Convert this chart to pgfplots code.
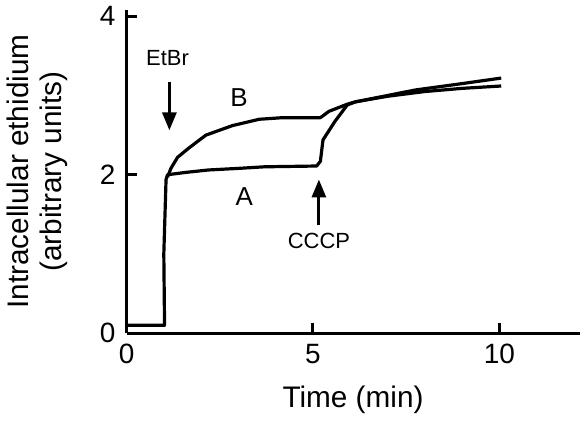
\documentclass[border=0pt]{standalone}
\usepackage{fontspec}
\setmainfont{Liberation Sans}
\usepackage{pgfplots}
\pgfplotsset{compat=1.18}
\usetikzlibrary{arrows.meta}

\begin{document}
\begin{tikzpicture}
\begin{axis}[
  scale only axis,
  width=227pt, height=162pt,
  xmin=0, xmax=12.15, ymin=0, ymax=4.08,
  axis lines=left,
  axis line style={line width=1.5pt, -},
  xtick={0,5,10}, ytick={0,2,4},
  tick style={line width=1.5pt, black},
  major tick length=5pt,
  tick align=inside,
  /pgf/number format/assume math mode=true,
  tick label style={font=\fontsize{14}{16}\selectfont},
  yticklabel style={xshift=-2pt},
  xticklabel style={yshift=-2pt},
  xlabel={Time (min)},
  ylabel={Intracellular ethidium\\(arbitrary units)},
  label style={font=\fontsize{14.9}{16.5}\selectfont},
  ylabel style={align=center},
  ylabel shift=9.5pt,
  xlabel shift=4pt,
  clip=false,
]
% curve A
\addplot[black, line width=1.6pt, line join=round] coordinates {
  (0,0.1) (1.02,0.1) (1.0,1.0) (1.06,1.94) (1.1,2.0)
  (1.6,2.03) (2.2,2.06) (3.0,2.08) (3.7,2.10) (5.1,2.11)
  (5.2,2.17) (5.27,2.44) (5.6,2.68) (5.92,2.88) (6.14,2.92)
  (7,3.0) (7.75,3.07) (9,3.15) (10.05,3.22)};
% curve B
\addplot[black, line width=1.6pt, line join=round] coordinates {
  (1.1,1.97) (1.19,2.08) (1.37,2.22) (1.68,2.34) (2.13,2.50)
  (2.84,2.62) (3.56,2.70) (4.18,2.72) (5.2,2.72) (5.43,2.80)
  (5.92,2.89) (6.14,2.92) (7,2.99) (8,3.05) (9,3.09) (10.05,3.12)};
\node[font=\fontsize{13}{15}\selectfont] at (axis cs:3.02,2.97) {B};
\node[font=\fontsize{13}{15}\selectfont] at (axis cs:3.16,1.72) {A};
\node[font=\fontsize{11}{13}\selectfont] at (axis cs:1.1,3.47) {EtBr};
\draw[line width=1.5pt, -{Triangle[width=7pt,length=9pt]}]
  (axis cs:1.15,3.17) -- (axis cs:1.15,2.56);
\node[font=\fontsize{11}{13}\selectfont] at (axis cs:5.16,1.17) {CCCP};
\draw[line width=1.5pt, -{Triangle[width=7pt,length=9pt]}]
  (axis cs:5.16,1.36) -- (axis cs:5.16,1.94);
\end{axis}
\end{tikzpicture}
\end{document}
